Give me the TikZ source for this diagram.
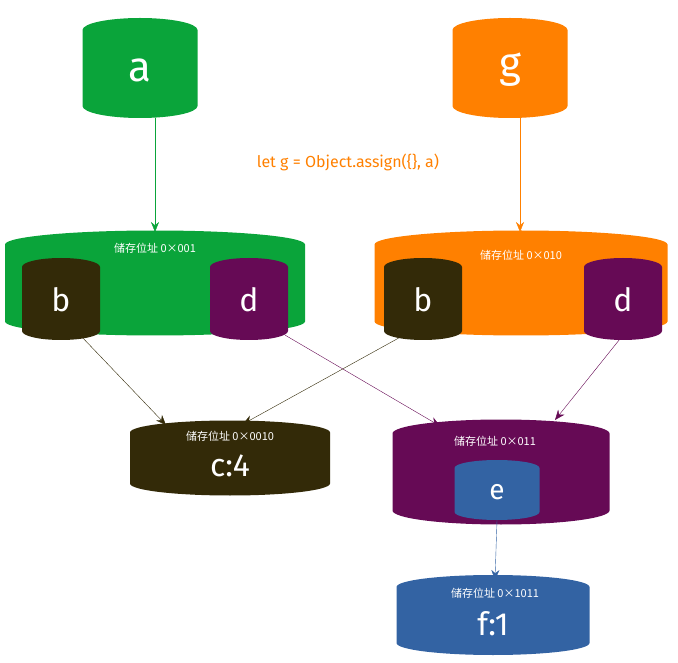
\documentclass[tikz,border=0pt]{standalone}
\usepackage{fontspec}
\setmainfont{Fira Sans}
\newfontfamily\cjk{Noto Sans CJK SC}
\usetikzlibrary{arrows.meta}
\definecolor{gr}{HTML}{0AA43A}
\definecolor{og}{HTML}{FF8000}
\definecolor{dk}{HTML}{332A08}
\definecolor{pu}{HTML}{660A55}
\definecolor{bl}{HTML}{3363A3}
% #1 name #2 colour #3 cx #4 cy #5 w #6 h #7 ry
\newcommand\Cyl[7]{%
 \fill[#2] ({#3-#5/2},{#4-#6/2+#7}) -- ({#3-#5/2},{#4+#6/2-#7})
  arc[start angle=180,end angle=360,x radius={#5/2*1pt},y radius={#7*1pt}]
  -- ({#3+#5/2},{#4-#6/2+#7})
  arc[start angle=0,end angle=180,x radius={#5/2*1pt},y radius={#7*1pt}] -- cycle;
 \node[minimum width=#5pt,minimum height=#6pt,inner sep=0pt] (#1) at (#3,#4) {};}
\begin{document}
\begin{tikzpicture}[x=1pt,y=-1pt,
 big/.style={text=white,font=\fontsize{42}{42}\selectfont},
 mid/.style={text=white,font=\fontsize{32}{32}\selectfont},
 lab/.style={text=white,font=\cjk\fontsize{11}{13}\selectfont},
 arr/.style={-{Stealth[length=10pt,width=8pt]},#1}]
\useasboundingbox (0,0) rectangle (678,663);
\Cyl{a}{gr}{140}{68}{115}{100}{12}
\node[big] at (140,70) {a};
\Cyl{g}{og}{510}{68}{115}{100}{12}
\node[big] at (510,70) {g};
\node[text=og,font=\fontsize{16}{19}\selectfont] at (348,162) {let g = Object.assign(\{\}, a)};
\Cyl{m1}{gr}{155}{283}{300}{105}{14}
\node[lab] at (155,248) {储存位址 0×001};
\Cyl{b1}{dk}{61}{299}{78}{82}{9}
\node[mid] at (61,300) {b};
\Cyl{d1}{pu}{249}{299}{78}{82}{9}
\node[mid] at (249,300) {d};
\Cyl{m2}{og}{521}{283}{293}{105}{14}
\node[lab] at (521,255) {储存位址 0×010};
\Cyl{b2}{dk}{423}{299}{78}{82}{9}
\node[mid] at (423,300) {b};
\Cyl{d2}{pu}{623}{299}{78}{82}{9}
\node[mid] at (623,300) {d};
\Cyl{c}{dk}{230}{458}{200}{75}{12}
\node[lab] at (230,436) {储存位址 0×0010};
\node[mid] at (230,466) {c:4};
\Cyl{p}{pu}{501}{472}{217}{105}{14}
\node[lab] at (495,441) {储存位址 0×011};
\Cyl{e}{bl}{497}{490}{85}{60}{8}
\node[mid,font=\fontsize{28}{28}\selectfont] at (497,492) {e};
\Cyl{f}{bl}{493}{615}{193}{80}{12}
\node[lab] at (495,593) {储存位址 0×1011};
\node[mid] at (493,624) {f:1};
\coordinate (ma) at (155,232);
\coordinate (mg) at (520,232);
\coordinate (ct1) at (166,425);
\coordinate (ct2) at (243,424);
\coordinate (pt1) at (440,426);
\coordinate (pt2) at (555,420);
\coordinate (fe) at (495,580);
\draw[arr=gr] (a.south-|ma) -- (ma);
\draw[arr=og] (g.south-|mg) -- (mg);
\draw[arr=dk] (b1.south east) ++(-20,-5) coordinate (x1) (x1) -- (ct1);
\draw[arr=pu] (d1.south east) ++(-3,-5) coordinate (x2) (x2) -- (pt1);
\draw[arr=dk] (b2.south west) ++(20,-5) coordinate (x3) (x3) -- (ct2);
\draw[arr=pu] (d2.south) ++(0,-5) coordinate (x4) (x4) -- (pt2);
\draw[arr=bl] (e.south) -- (fe);
\end{tikzpicture}
\end{document}
